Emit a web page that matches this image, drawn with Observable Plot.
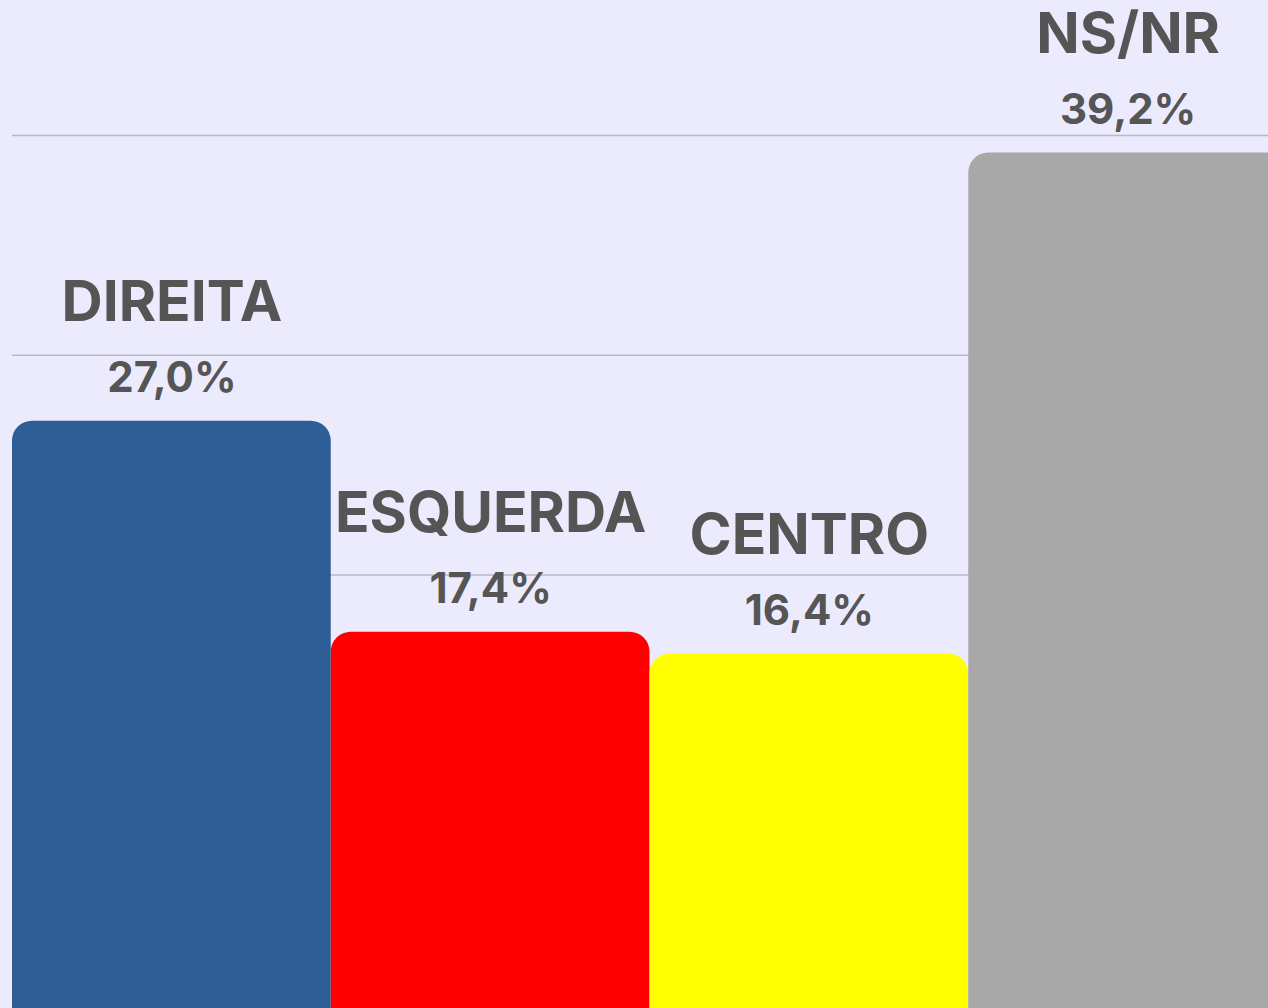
<!DOCTYPE html>
<html>
<head>
<meta charset="utf-8">
<script src="https://cdn.jsdelivr.net/npm/d3@7"></script>
<script src="https://cdn.jsdelivr.net/npm/@observablehq/plot@0.6"></script>
<style>
  html, body { margin: 0; padding: 0; background: #ECEBFE; overflow: hidden; width: 1268px; height: 1008px; }
  #chart svg { display: block; max-width: none; }
</style>
</head>
<body>
<div id="chart"></div>
<script>
const categories = ["DIREITA", "ESQUERDA", "CENTRO", "NS/NR"];
const values = [27.0, 17.4, 16.4, 39.2];
const colors = ["#2E5E96", "#FF0000", "#FFFF00", "#A8A8A8"];
const gridTicks = [0, 10, 20, 30, 40];

const data = categories.map((c, i) => ({category: c, value: values[i], color: colors[i]}));
const fmt = v => v.toFixed(1).replace(".", ",") + "%";

const chart = Plot.plot({
  width: 1287,
  height: 1008,
  marginLeft: 12,
  marginRight: 0,
  marginTop: 0,
  marginBottom: 0,
  style: {background: "#ECEBFE", maxWidth: "none", overflow: "hidden"},
  x: {domain: categories, padding: 0, round: false, axis: null},
  y: {domain: [0, 40], range: [1014, 135], axis: null},
  marks: [
    Plot.gridY(gridTicks, {stroke: "#B9B8C9", strokeOpacity: 1, strokeWidth: 1.5}),
    Plot.barY(data, {x: "category", y: "value", fill: d => d.color, rx: 20, insetBottom: -60}),
    Plot.text(data, {x: "category", y: "value", text: d => fmt(d.value), dy: -43,
      fontSize: 42, fontWeight: 700, fontFamily: "Inter", fill: "#555555", textAnchor: "middle", letterSpacing: "1px"}),
    Plot.text(data, {x: "category", y: "value", text: "category", dy: -118,
      fontSize: 57, fontWeight: 700, fontFamily: "Inter", fill: "#555555", textAnchor: "middle", letterSpacing: "0.8px"})
  ]
});
document.getElementById("chart").appendChild(chart);
</script>
</body>
</html>
